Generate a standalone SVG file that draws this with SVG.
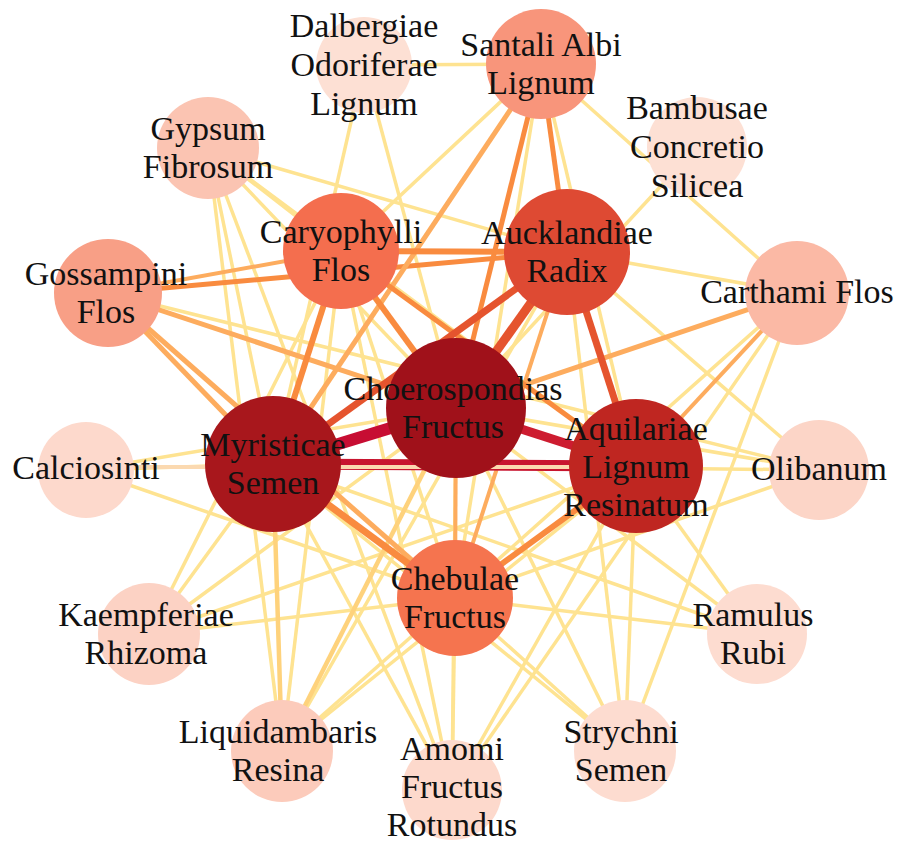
<svg xmlns="http://www.w3.org/2000/svg" width="899" height="847" viewBox="0 0 899 847">
<style>
.e line{fill:none;stroke-linecap:butt}
.y{stroke:#fee391;stroke-width:3.5}
.ly{stroke:#fed27c;stroke-width:4.5}
.lo{stroke:#fdac5e;stroke-width:5}
.o{stroke:#f98b3f;stroke-width:6}
.or{stroke:#e5542e;stroke-width:8}
.r{stroke:#c8142f;stroke-width:10}
text{font-family:"Liberation Serif","Times New Roman",serif;font-size:34px;fill:#111;text-anchor:middle}
</style>
<rect width="899" height="847" fill="#fff"/>
<g id="edges" class="e">
<!-- yellow -->
<line class="y" x1="541" y1="64" x2="341" y2="251"/>
<line class="y" x1="541" y1="64" x2="455" y2="598"/>
<line class="y" x1="541" y1="64" x2="636" y2="466"/>
<line class="y" x1="541" y1="64" x2="364" y2="65"/>
<line class="y" x1="541" y1="64" x2="797" y2="293"/>
<line class="y" x1="108" y1="293" x2="819" y2="470"/>
<line class="y" x1="208" y1="148" x2="567" y2="252"/>
<line class="y" x1="208" y1="148" x2="341" y2="251"/>
<line class="y" x1="208" y1="148" x2="456" y2="408"/>
<line class="y" x1="208" y1="148" x2="636" y2="466"/>
<line class="y" x1="208" y1="148" x2="273" y2="464"/>
<line class="y" x1="208" y1="148" x2="282" y2="751"/>
<line class="y" x1="208" y1="148" x2="452" y2="792"/>
<line class="y" x1="364" y1="65" x2="273" y2="464"/>
<line class="y" x1="364" y1="65" x2="456" y2="408"/>
<line class="y" x1="697" y1="147" x2="456" y2="408"/>
<line class="y" x1="797" y1="293" x2="567" y2="252"/>
<line class="y" x1="797" y1="293" x2="455" y2="598"/>
<line class="y" x1="797" y1="293" x2="452" y2="792"/>
<line class="y" x1="797" y1="293" x2="625" y2="751"/>
<line class="y" x1="819" y1="470" x2="567" y2="252"/>
<line class="y" x1="819" y1="470" x2="456" y2="408"/>
<line class="y" x1="819" y1="470" x2="273" y2="464"/>
<line class="y" x1="819" y1="470" x2="455" y2="598"/>
<line class="y" x1="86" y1="470" x2="273" y2="464"/>
<line class="y" x1="86" y1="470" x2="456" y2="408"/>
<line class="y" x1="86" y1="470" x2="455" y2="598"/>
<line class="y" x1="149" y1="634" x2="273" y2="464"/>
<line class="y" x1="149" y1="634" x2="341" y2="251"/>
<line class="y" x1="149" y1="634" x2="456" y2="408"/>
<line class="y" x1="149" y1="634" x2="636" y2="466"/>
<line class="y" x1="149" y1="634" x2="455" y2="598"/>
<line class="y" x1="282" y1="751" x2="341" y2="251"/>
<line class="y" x1="282" y1="751" x2="567" y2="252"/>
<line class="y" x1="282" y1="751" x2="636" y2="466"/>
<line class="y" x1="282" y1="751" x2="455" y2="598"/>
<line class="y" x1="452" y1="792" x2="455" y2="598"/>
<line class="y" x1="452" y1="792" x2="273" y2="464"/>
<line class="y" x1="452" y1="792" x2="636" y2="466"/>
<line class="y" x1="452" y1="792" x2="456" y2="408"/>
<line class="y" x1="452" y1="792" x2="341" y2="251"/>
<line class="y" x1="625" y1="751" x2="636" y2="466"/>
<line class="y" x1="625" y1="751" x2="567" y2="252"/>
<line class="y" x1="625" y1="751" x2="456" y2="408"/>
<line class="y" x1="625" y1="751" x2="455" y2="598"/>
<line class="y" x1="625" y1="751" x2="273" y2="464"/>
<line class="y" x1="757" y1="634" x2="636" y2="466"/>
<line class="y" x1="757" y1="634" x2="455" y2="598"/>
<line class="y" x1="757" y1="634" x2="273" y2="464"/>
<line class="y" x1="757" y1="634" x2="456" y2="408"/>
<line class="y" x1="341" y1="251" x2="455" y2="598"/>
<!-- light orange / orange -->
<line class="ly" x1="282" y1="751" x2="273" y2="464"/>
<line class="ly" x1="282" y1="751" x2="456" y2="408"/>
<line class="lo" x1="108" y1="293" x2="341" y2="251" style="stroke-width:4"/>
<line class="lo" x1="108" y1="293" x2="273" y2="464"/>
<line class="lo" x1="108" y1="293" x2="455" y2="598"/>
<line class="lo" x1="108" y1="293" x2="456" y2="408"/>
<line class="o" x1="108" y1="293" x2="567" y2="252" style="stroke-width:5"/>
<line class="lo" x1="797" y1="293" x2="456" y2="408"/>
<line class="lo" x1="797" y1="293" x2="636" y2="466" style="stroke-width:4"/>
<line class="lo" x1="455" y1="598" x2="456" y2="408" style="stroke-width:4"/>
<line class="lo" x1="455" y1="598" x2="567" y2="252" style="stroke-width:4"/>
<line class="lo" x1="541" y1="64" x2="273" y2="464"/>
<line class="o" x1="541" y1="64" x2="456" y2="408" style="stroke-width:5"/>
<line class="o" x1="541" y1="64" x2="567" y2="252" style="stroke-width:5"/>
<line class="o" x1="456" y1="408" x2="341" y2="251"/>
<line class="o" x1="273" y1="464" x2="341" y2="251"/>
<line class="o" x1="636" y1="466" x2="341" y2="251" style="stroke-width:5"/>
<line class="o" x1="341" y1="251" x2="567" y2="252"/>
<line class="o" x1="455" y1="598" x2="273" y2="464" style="stroke-width:7"/>
<line class="o" x1="455" y1="598" x2="636" y2="466"/>
<!-- orange-red -->
<line class="or" x1="456" y1="408" x2="567" y2="252" style="stroke-width:9"/>
<line class="or" x1="273" y1="464" x2="567" y2="252" style="stroke-width:7"/>
<line class="or" x1="636" y1="466" x2="567" y2="252" style="stroke-width:7"/>
<!-- red -->
<line class="r" x1="273" y1="464" x2="636" y2="466" style="stroke-width:11"/>
<line class="y" x1="86" y1="467" x2="636" y2="467" style="stroke:#fbd9b0;stroke-width:4"/>
<line class="r" x1="456" y1="408" x2="273" y2="464" style="stroke:#c70d33;stroke-width:12"/>
<line class="r" x1="456" y1="408" x2="636" y2="466" style="stroke:#cd1c30;stroke-width:9"/>
</g>
<g id="n-dalbergiae"><circle cx="364" cy="65" r="48" fill="#fde0d4"/><text x="364" y="37">Dalbergiae</text><text x="364" y="76">Odoriferae</text><text x="364" y="115">Lignum</text></g>
<g id="n-santali"><circle cx="541" cy="64" r="55" fill="#f8957b"/><text x="541" y="56">Santali Albi</text><text x="541" y="94">Lignum</text></g>
<g id="n-bambusae"><circle cx="697" cy="147" r="50" fill="#fde0d4"/><text x="697" y="119">Bambusae</text><text x="697" y="158">Concretio</text><text x="697" y="197">Silicea</text></g>
<g id="n-gypsum"><circle cx="208" cy="148" r="51" fill="#fbc4b2"/><text x="208" y="140">Gypsum</text><text x="208" y="178">Fibrosum</text></g>
<g id="n-caryophylli"><circle cx="341" cy="251" r="58" fill="#f46e4e"/><text x="341" y="243">Caryophylli</text><text x="341" y="281">Flos</text></g>
<g id="n-aucklandiae"><circle cx="567" cy="252" r="63" fill="#de4a33"/><text x="567" y="244">Aucklandiae</text><text x="567" y="282">Radix</text></g>
<g id="n-gossampini"><circle cx="108" cy="293" r="54" fill="#f89f86"/><text x="106" y="285">Gossampini</text><text x="106" y="323">Flos</text></g>
<g id="n-carthami"><circle cx="797" cy="293" r="52" fill="#fbb9a5"/><text x="797" y="303">Carthami Flos</text></g>
<g id="n-calciosinti"><circle cx="86" cy="470" r="48" fill="#fdd9cc"/><text x="86" y="479">Calciosinti</text></g>
<g id="n-olibanum"><circle cx="819" cy="470" r="50" fill="#fcd5c7"/><text x="819" y="480">Olibanum</text></g>
<g id="n-myristicae"><circle cx="273" cy="464" r="68" fill="#a8171c"/><text x="273" y="456">Myristicae</text><text x="273" y="494">Semen</text></g>
<g id="n-aquilariae"><circle cx="636" cy="466" r="67" fill="#bf2621"/><text x="636" y="440">Aquilariae</text><text x="636" y="478">Lignum</text><text x="636" y="516">Resinatum</text></g>
<g id="n-choerospondias"><circle cx="456" cy="408" r="70" fill="#a0111a"/><text x="453" y="400">Choerospondias</text><text x="453" y="438">Fructus</text></g>
<g id="n-chebulae"><circle cx="455" cy="598" r="58" fill="#f5744f"/><text x="455" y="590">Chebulae</text><text x="455" y="628">Fructus</text></g>
<g id="n-kaempferiae"><circle cx="149" cy="634" r="51" fill="#fcd2c4"/><text x="146" y="626">Kaempferiae</text><text x="146" y="664">Rhizoma</text></g>
<g id="n-ramulus"><circle cx="757" cy="634" r="50" fill="#fddcd0"/><text x="753" y="626">Ramulus</text><text x="753" y="664">Rubi</text></g>
<g id="n-liquidambaris"><circle cx="282" cy="751" r="51" fill="#fccbbb"/><text x="278" y="743">Liquidambaris</text><text x="278" y="781">Resina</text></g>
<g id="n-amomi"><circle cx="452" cy="790" r="50" fill="#fdd9cc"/><text x="452" y="760">Amomi</text><text x="452" y="798">Fructus</text><text x="452" y="836">Rotundus</text></g>
<g id="n-strychni"><circle cx="625" cy="751" r="51" fill="#fddcd0"/><text x="621" y="743">Strychni</text><text x="621" y="781">Semen</text></g>
</svg>
